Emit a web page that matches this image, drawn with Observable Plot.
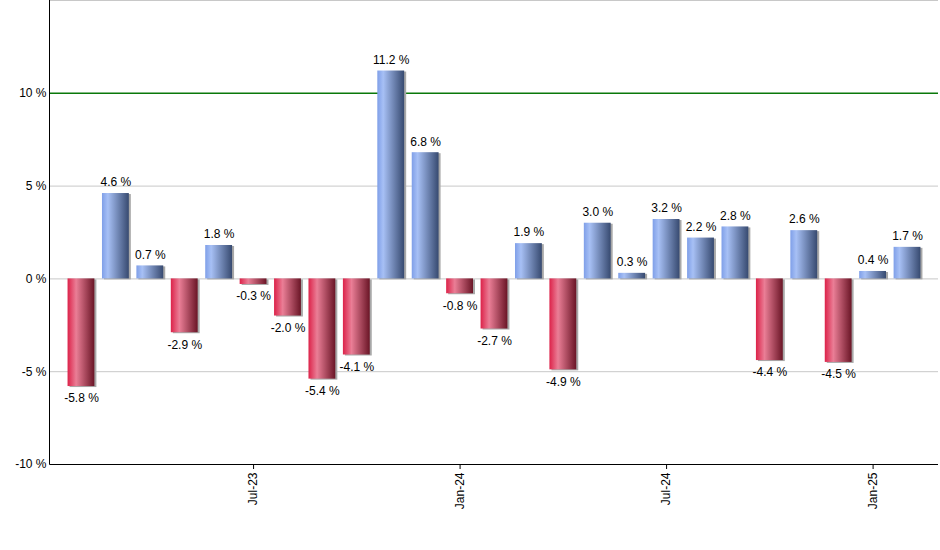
<!DOCTYPE html>
<html><head><meta charset="utf-8">
<script src="https://cdn.jsdelivr.net/npm/d3@7"></script>
<script src="https://cdn.jsdelivr.net/npm/@observablehq/plot@0.6"></script>
<style>body{margin:0;background:#fff;}</style>
</head><body><div id="chart"></div>
<script>
const months = ["2023-02","2023-03","2023-04","2023-05","2023-06","2023-07","2023-08","2023-09","2023-10","2023-11","2023-12","2024-01","2024-02","2024-03","2024-04","2024-05","2024-06","2024-07","2024-08","2024-09","2024-10","2024-11","2024-12","2025-01","2025-02"];
const values = [-5.8,4.6,0.7,-2.9,1.8,-0.3,-2.0,-5.4,-4.1,11.2,6.8,-0.8,-2.7,1.9,-4.9,3.0,0.3,3.2,2.2,2.8,-4.4,2.6,-4.5,0.4,1.7];
const tickMonths = ["2023-07","2024-01","2024-07","2025-01"];
const tickLabels = ["Jul-23","Jan-24","Jul-24","Jan-25"];
const yTicks = [-10,-5,0,5,10];
const gridLines = [-5,0,5,15];
const highlightLines = [10];

const data = months.map((m,i)=>({month:m, value:values[i]}));
const fmtMonth = m => tickLabels[tickMonths.indexOf(m)];
const font = "'Liberation Sans', Arial, sans-serif";

const chart = Plot.plot({
  width: 940, height: 550,
  marginTop: 0, marginBottom: 86, marginLeft: 50, marginRight: 2,
  style: {fontFamily: font, fontSize: "12px", color: "#000", background: "#fff"},
  x: {domain: months, paddingInner: 0.22, paddingOuter: 0.51, round: false, axis: null, label: null},
  y: {domain: [-10, 15], axis: null, label: null},
  marks: [
    Plot.ruleY(gridLines, {stroke: "#c8c8c8", strokeWidth: 1}),
    Plot.ruleY(highlightLines, {stroke: "#0a780a", strokeWidth: 1.5}),
    Plot.barY(data, {x: "month", y: "value", fill: "#a8a8a8", dx: 2, dy: 1}),
    Plot.barY(data, {filter: d => d.value >= 0, x: "month", y: "value", fill: "url(#gBlue)"}),
    Plot.barY(data, {filter: d => d.value < 0, x: "month", y: "value", fill: "url(#gRed)"}),
    Plot.text(data, {filter: d => d.value >= 0, x: "month", y: "value", text: d => d.value.toFixed(1) + " %", dy: -11, fill: "#000"}),
    Plot.text(data, {filter: d => d.value < 0, x: "month", y: "value", text: d => d.value.toFixed(1) + " %", dy: 12, fill: "#000"}),
    Plot.axisY(yTicks, {tickSize: 0, tickPadding: 4, tickFormat: d => d + " %", fill: "#000", label: null}),
    Plot.axisX(tickMonths, {tickSize: 5, tickPadding: 3, tickRotate: -90, tickFormat: fmtMonth, stroke: "#000", fill: "#000", label: null})
  ]
});

const svg = d3.select(chart);
const defs = svg.insert("defs", ":first-child");
const gb = defs.append("linearGradient").attr("id","gBlue").attr("x1","0").attr("x2","1").attr("y1","0").attr("y2","0");
[["0%","#7f9fe8"],["22%","#a7c0f5"],["100%","#374a70"]].forEach(([o,c])=>gb.append("stop").attr("offset",o).attr("stop-color",c));
const gr = defs.append("linearGradient").attr("id","gRed").attr("x1","0").attr("x2","1").attr("y1","0").attr("y2","0");
[["0%","#dc2249"],["32%","#ea7e96"],["100%","#6a1526"]].forEach(([o,c])=>gr.append("stop").attr("offset",o).attr("stop-color",c));
svg.append("line").attr("x1",49.5).attr("x2",49.5).attr("y1",0).attr("y2",464.5).attr("stroke","#000");
svg.append("line").attr("x1",49.5).attr("x2",938).attr("y1",464.5).attr("y2",464.5).attr("stroke","#000");
document.getElementById("chart").appendChild(chart);
</script>
</body></html>
